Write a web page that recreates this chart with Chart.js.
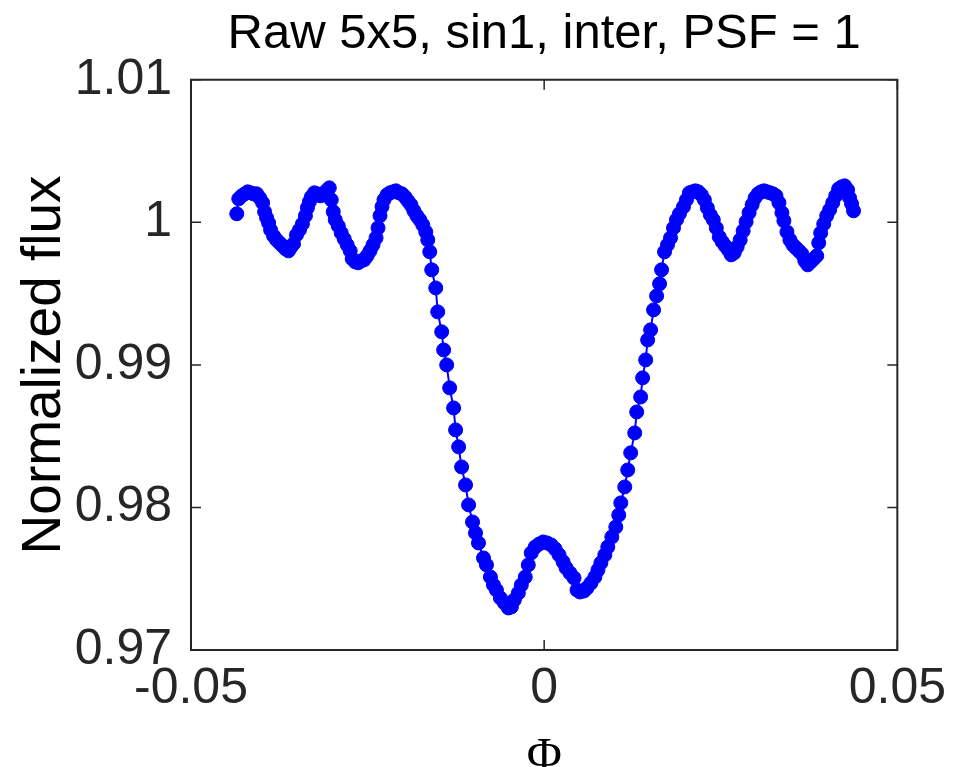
<!DOCTYPE html>
<html>
<head>
<meta charset="utf-8">
<script src="https://cdn.jsdelivr.net/npm/chart.js@4.4.1/dist/chart.umd.min.js"></script>
<style>
html,body{margin:0;padding:0;background:#fff;}
#wrap{width:955px;height:767px;position:relative;}
</style>
</head>
<body>
<div id="wrap"><canvas id="c" width="955" height="767"></canvas></div>
<script>
const titleText = 'Raw 5x5, sin1, inter, PSF = 1';
const xAxisTitle = 'Φ';
const yAxisTitle = 'Normalized flux';
const xTicks = [-0.05, 0, 0.05];
const xTickLabels = ['-0.05', '0', '0.05'];
const yTicks = [0.97, 0.98, 0.99, 1, 1.01];
const yTickLabels = ['0.97', '0.98', '0.99', '1', '1.01'];

const phase = [
-0.04352,-0.04324,-0.04282,-0.04239,-0.04197,-0.04155,-0.04113,-0.04070,-0.04028,-0.03986,
-0.03958,-0.03930,-0.03901,-0.03873,-0.03831,-0.03789,-0.03746,-0.03704,-0.03662,-0.03620,
-0.03592,-0.03549,-0.03507,-0.03465,-0.03423,-0.03380,-0.03352,-0.03324,-0.03296,-0.03254,
-0.03211,-0.03169,-0.03127,-0.03085,-0.03042,-0.03014,-0.02986,-0.02958,-0.02915,-0.02873,
-0.02831,-0.02789,-0.02746,-0.02718,-0.02676,-0.02634,-0.02592,-0.02549,-0.02507,-0.02465,
-0.02423,-0.02380,-0.02352,-0.02324,-0.02296,-0.02268,-0.02225,-0.02183,-0.02141,-0.02099,
-0.02056,-0.02014,-0.01972,-0.01930,-0.01887,-0.01845,-0.01803,-0.01761,-0.01718,-0.01676,
-0.01648,-0.01620,-0.01592,-0.01535,-0.01507,-0.01451,-0.01423,-0.01380,-0.01338,-0.01282,
-0.01254,-0.01211,-0.01169,-0.01113,-0.01070,-0.01014,-0.00972,-0.00930,-0.00859,-0.00817,
-0.00761,-0.00718,-0.00676,-0.00620,-0.00563,-0.00507,-0.00465,-0.00423,-0.00366,-0.00324,
-0.00268,-0.00225,-0.00183,-0.00127,-0.00070,-0.00014,0.00042,0.00099,0.00155,0.00211,
0.00268,0.00310,0.00366,0.00423,0.00465,0.00507,0.00563,0.00606,0.00662,0.00718,
0.00761,0.00803,0.00859,0.00901,0.00958,0.01014,0.01056,0.01085,0.01141,0.01183,
0.01225,0.01282,0.01310,0.01366,0.01394,0.01437,0.01465,0.01507,0.01549,0.01592,
0.01634,0.01662,0.01704,0.01746,0.01789,0.01831,0.01873,0.01915,0.01972,0.02014,
0.02056,0.02099,0.02141,0.02183,0.02225,0.02268,0.02310,0.02352,0.02394,0.02437,
0.02479,0.02521,0.02563,0.02606,0.02648,0.02690,0.02732,0.02775,0.02817,0.02859,
0.02901,0.02944,0.02986,0.03028,0.03070,0.03113,0.03155,0.03197,0.03239,0.03282,
0.03324,0.03366,0.03394,0.03437,0.03479,0.03521,0.03563,0.03606,0.03648,0.03690,
0.03732,0.03775,0.03817,0.03859,0.03887,0.03915,0.03958,0.04000,0.04042,0.04085,
0.04127,0.04169,0.04211,0.04254,0.04296,0.04324,0.04352,0.04380
];
const flux = [
1.00060,1.00165,1.00186,1.00200,1.00214,1.00207,1.00200,1.00200,1.00172,1.00137,
1.00074,1.00032,0.99996,0.99947,0.99905,0.99877,0.99856,0.99835,0.99814,0.99800,
0.99821,0.99849,0.99912,0.99947,0.99989,1.00046,1.00102,1.00144,1.00179,1.00207,
1.00200,1.00186,1.00193,1.00221,1.00242,1.00158,1.00074,1.00018,0.99975,0.99926,
0.99884,0.99842,0.99800,0.99744,0.99723,0.99716,0.99730,0.99737,0.99765,0.99800,
0.99842,0.99891,0.99961,1.00046,1.00109,1.00158,1.00193,1.00207,1.00214,1.00221,
1.00207,1.00200,1.00179,1.00151,1.00123,1.00081,1.00046,1.00018,0.99982,0.99933,
0.99877,0.99793,0.99667,0.99540,0.99372,0.99232,0.99105,0.99000,0.98839,0.98698,
0.98544,0.98425,0.98284,0.98158,0.98018,0.97898,0.97821,0.97751,0.97646,0.97597,
0.97512,0.97456,0.97421,0.97365,0.97330,0.97295,0.97302,0.97351,0.97400,0.97456,
0.97512,0.97597,0.97681,0.97723,0.97744,0.97758,0.97751,0.97737,0.97709,0.97667,
0.97618,0.97576,0.97540,0.97505,0.97421,0.97407,0.97414,0.97435,0.97470,0.97512,
0.97561,0.97611,0.97667,0.97723,0.97793,0.97863,0.97947,0.98032,0.98144,0.98263,
0.98383,0.98523,0.98670,0.98775,0.98909,0.99035,0.99175,0.99246,0.99386,0.99484,
0.99569,0.99667,0.99793,0.99842,0.99891,0.99961,1.00018,1.00060,1.00109,1.00158,
1.00207,1.00214,1.00221,1.00214,1.00193,1.00158,1.00102,1.00053,1.00018,0.99961,
0.99898,0.99863,0.99835,0.99807,0.99772,0.99786,0.99828,0.99877,0.99940,1.00004,
1.00067,1.00123,1.00172,1.00200,1.00214,1.00221,1.00214,1.00207,1.00200,1.00186,
1.00137,1.00067,1.00011,0.99933,0.99877,0.99842,0.99821,0.99800,0.99779,0.99730,
0.99702,0.99723,0.99744,0.99765,0.99856,0.99926,0.99989,1.00046,1.00088,1.00137,
1.00186,1.00235,1.00249,1.00256,1.00228,1.00172,1.00130,1.00081
];

function hasFont(name){
  const c = document.createElement('canvas').getContext('2d');
  const s = '0.99 1.01 abcdefg';
  c.font = '40px monospace';
  const a = c.measureText(s).width;
  c.font = '40px "' + name + '", monospace';
  const b = c.measureText(s).width;
  return Math.abs(a - b) > 0.5;
}
const narrow = hasFont('Liberation Sans Narrow');
const tickFont = narrow
  ? {family: '"Liberation Sans Narrow", "Liberation Sans", Arial, sans-serif', size: 56, lineHeight: 1.2}
  : {family: '"Liberation Sans", Arial, sans-serif', size: 50, lineHeight: 1.2};

const axisColor = '#262626';

const frame = {
  id: 'frame',
  beforeDatasetsDraw(chart){
    const {ctx, chartArea: a, scales} = chart;
    ctx.save();
    ctx.strokeStyle = axisColor;
    ctx.lineWidth = 2;
    ctx.beginPath();
    ctx.rect(a.left, a.top, a.right - a.left, a.bottom - a.top);
    ctx.stroke();
    const tl = 10;
    ctx.lineWidth = 1.5;
    ctx.beginPath();
    scales.y.ticks.forEach(t => {
      const y = scales.y.getPixelForValue(t.value);
      ctx.moveTo(a.left, y); ctx.lineTo(a.left + tl, y);
      ctx.moveTo(a.right, y); ctx.lineTo(a.right - tl, y);
    });
    scales.x.ticks.forEach(t => {
      const x = scales.x.getPixelForValue(t.value);
      ctx.moveTo(x, a.bottom); ctx.lineTo(x, a.bottom - tl);
      ctx.moveTo(x, a.top); ctx.lineTo(x, a.top + tl);
    });
    ctx.stroke();
    ctx.restore();
  }
};

const points = phase.map((p, i) => ({x: p, y: flux[i]}));

new Chart(document.getElementById('c'), {
  type: 'scatter',
  data: {
    datasets: [{
      data: points,
      showLine: true,
      borderColor: '#0000ff',
      borderWidth: 2,
      pointRadius: 7,
      pointBorderWidth: 1,
      pointBackgroundColor: '#0000ff',
      pointBorderColor: '#0000ff',
      tension: 0
    }]
  },
  options: {
    responsive: false,
    animation: false,
    events: [],
    layout: {padding: {left: 0, right: 54, top: 0, bottom: 0}},
    plugins: {
      legend: {display: false},
      tooltip: {enabled: false},
      title: {
        display: true,
        text: titleText,
        fullSize: false,
        color: '#000',
        font: {family: '"Liberation Sans", Arial, sans-serif', size: 49, weight: 'normal', lineHeight: 1.2},
        padding: {top: 5, bottom: 16}
      }
    },
    scales: {
      x: {
        type: 'linear',
        min: -0.05, max: 0.05,
        grid: {display: false, drawTicks: false},
        border: {display: false},
        afterBuildTicks: s => { s.ticks = xTicks.map(v => ({value: v})); },
        afterFit: s => { s.height = 117; },
        ticks: {
          color: axisColor,
          font: tickFont,
          padding: 9,
          maxRotation: 0,
          callback: (v, i) => xTickLabels[i]
        },
        title: {
          display: true,
          text: xAxisTitle,
          color: '#000',
          font: {family: '"Liberation Serif", "Times New Roman", serif', size: 48, lineHeight: 1},
          padding: {top: 0, bottom: -15}
        }
      },
      y: {
        type: 'linear',
        min: 0.97, max: 1.01,
        grid: {display: false, drawTicks: false},
        border: {display: false},
        afterBuildTicks: s => { s.ticks = yTicks.map(v => ({value: v})); },
        afterFit: s => { s.width = 191; },
        ticks: {
          color: axisColor,
          font: tickFont,
          padding: 19,
          callback: (v, i) => yTickLabels[i]
        },
        title: {
          display: true,
          text: yAxisTitle,
          color: '#000',
          font: {family: '"Liberation Sans", Arial, sans-serif', size: 55, lineHeight: 1},
          padding: {top: 17, bottom: 0}
        }
      }
    }
  },
  plugins: [frame]
});
</script>
</body>
</html>
